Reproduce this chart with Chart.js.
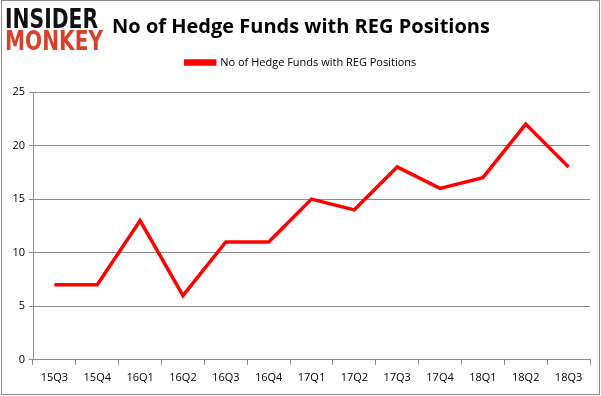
<!DOCTYPE html>
<html>
<head>
<meta charset="utf-8">
<script src="https://cdn.jsdelivr.net/npm/chart.js@4.4.1/dist/chart.umd.min.js"></script>
<style>
html,body{margin:0;padding:0;background:#fff;}
canvas{display:block;}
</style>
</head>
<body>
<canvas id="c" width="601" height="396"></canvas>
<script>
const categories = ["15Q3","15Q4","16Q1","16Q2","16Q3","16Q4","17Q1","17Q2","17Q3","17Q4","18Q1","18Q2","18Q3"];
const hedgeFunds = [7,7,13,6,11,11,15,14,18,16,17,22,18];
const seriesName = "No of Hedge Funds with REG Positions";
const titleText = "No of Hedge Funds with REG Positions";
const yTicks = [0,5,10,15,20,25];

const decor = {
  id: 'decor',
  beforeInit(chart) {
    const lg = chart.legend;
    if (lg) {
      const orig = lg.fit;
      lg.fit = function () { orig.call(this); this.height += 14; };
    }
  },
  afterDraw(chart) {
    const ctx = chart.ctx;
    ctx.save();
    ctx.strokeStyle = '#8c8c8c';
    ctx.lineWidth = 1;
    ctx.strokeRect(1.5, 0.5, 598, 394);
    function fitText(t, x, y, w, h, color) {
      ctx.font = '900 ' + h + 'px "DejaVu Sans"';
      const m = ctx.measureText(t).width;
      ctx.save();
      ctx.translate(x, y);
      ctx.scale(w / m, 1);
      ctx.fillStyle = color;
      ctx.textBaseline = 'alphabetic';
      ctx.fillText(t, 0, 0);
      ctx.restore();
    }
    fitText('INSIDER', 5, 28, 93, 26, '#111111');
    fitText('MONKEY', 5, 50, 98, 26, '#d8402b');
    ctx.restore();
  }
};

new Chart(document.getElementById('c'), {
  type: 'line',
  data: {
    labels: categories,
    datasets: [{
      label: seriesName,
      data: hedgeFunds,
      borderColor: '#ff0000',
      backgroundColor: '#ff0000',
      borderWidth: 3.5,
      pointRadius: 0,
      tension: 0,
      fill: false
    }]
  },
  options: {
    responsive: false,
    animation: false,
    devicePixelRatio: 1,
    layout: { padding: { left: 12, right: 11, top: 6, bottom: 6 } },
    plugins: {
      title: {
        display: true,
        text: titleText,
        color: '#000',
        font: { family: '"Open Sans"', size: 20, weight: 'bold' },
        padding: { top: 9, bottom: 4 }
      },
      legend: {
        display: true,
        labels: {
          color: '#000',
          font: { family: '"Open Sans"', size: 11 },
          boxWidth: 29,
          boxHeight: 3,
          padding: 14
        }
      },
      tooltip: { enabled: false }
    },
    scales: {
      x: {
        offset: true,
        grid: { display: true, offset: true, drawOnChartArea: false, color: '#8c8c8c', tickLength: 5 },
        border: { color: '#8c8c8c' },
        ticks: { color: '#000', font: { family: '"Open Sans"', size: 11 }, maxRotation: 0, padding: 6 }
      },
      y: {
        min: 0,
        max: 25,
        afterBuildTicks(axis) { axis.ticks = yTicks.map(v => ({ value: v })); },
        afterFit(axis) { axis.width = 21; },
        grid: { color: '#8c8c8c', tickLength: 4 },
        border: { color: '#8c8c8c' },
        ticks: { color: '#000', font: { family: '"Open Sans"', size: 11 }, padding: 4 }
      }
    }
  },
  plugins: [decor]
});
</script>
</body>
</html>
